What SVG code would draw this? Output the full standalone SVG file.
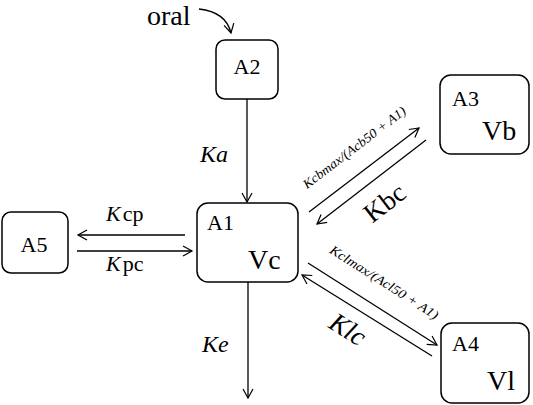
<svg xmlns="http://www.w3.org/2000/svg" width="533" height="405" viewBox="0 0 533 405">
<defs>
<marker id="ah" markerWidth="12" markerHeight="12" refX="10" refY="6" orient="auto" markerUnits="userSpaceOnUse">
<path d="M1,1 L10,6 L1,11" fill="none" stroke="#000" stroke-width="1.2"/>
</marker>
<style>
.box{fill:#fff;stroke:#000;stroke-width:1.5}
text{font-family:"Liberation Serif","Times New Roman","DejaVu Serif",serif;fill:#000}
.c line,.c path{stroke:#000;stroke-width:1.3;fill:none;marker-end:url(#ah)}
</style>
</defs>
<rect width="533" height="405" fill="#fff"/>
<g class="c">
<path d="M199,9 Q226,12 231,33"/>
<line x1="247" y1="99" x2="247" y2="202"/>
<line x1="185" y1="235" x2="78" y2="235"/>
<line x1="77" y1="251" x2="192" y2="251"/>
<line x1="248" y1="282" x2="248" y2="398"/>
<line x1="309" y1="212" x2="419" y2="128"/>
<line x1="426" y1="140" x2="317" y2="224"/>
<line x1="308" y1="263" x2="437" y2="345"/>
<line x1="432" y1="356" x2="302" y2="275"/>
</g>
<g font-family="Liberation Serif, serif">
<text x="147" y="25" font-size="28">oral</text>
<text x="200" y="162" font-size="24" font-style="italic">Ka</text>
<text x="106" y="221" font-size="22"><tspan font-style="italic">K</tspan><tspan dx="2">cp</tspan></text>
<text x="106" y="271" font-size="22"><tspan font-style="italic">K</tspan><tspan dx="2">pc</tspan></text>
<text x="202" y="352" font-size="24" font-style="italic">Ke</text>
<text font-size="13" font-style="italic" text-anchor="middle" textLength="126" lengthAdjust="spacingAndGlyphs" transform="translate(357,151) rotate(-37.4)">Kcbmax/(Acb50 + A1)</text>
<text font-size="27" text-anchor="middle" transform="translate(390,210) rotate(-37.4)">Kbc</text>
<text font-size="13" font-style="italic" text-anchor="middle" textLength="126" lengthAdjust="spacingAndGlyphs" transform="translate(382,286) rotate(32.4)">Kclmax/(Acl50 + A1)</text>
<text font-size="27" font-style="italic" text-anchor="middle" transform="translate(343,337) rotate(32.4)">Klc</text>
</g>
<g id="A2"><rect class="box" x="216" y="40" width="62" height="59" rx="9"/><text x="247" y="74" font-size="22" text-anchor="middle">A2</text></g>
<g id="A1"><rect class="box" x="197" y="203" width="101" height="79" rx="11"/><text x="207" y="230" font-size="22">A1</text><text x="248" y="269" font-size="28">Vc</text></g>
<g id="A5"><rect class="box" x="2" y="212" width="66" height="61" rx="9"/><text x="34" y="252" font-size="22" text-anchor="middle">A5</text></g>
<g id="A3"><rect class="box" x="440" y="75" width="89" height="79" rx="11"/><text x="452" y="106" font-size="22">A3</text><text x="482" y="140" font-size="28">Vb</text></g>
<g id="A4"><rect class="box" x="441" y="323" width="88" height="80" rx="11"/><text x="452" y="351" font-size="22">A4</text><text x="487" y="390" font-size="28">Vl</text></g>
</svg>
